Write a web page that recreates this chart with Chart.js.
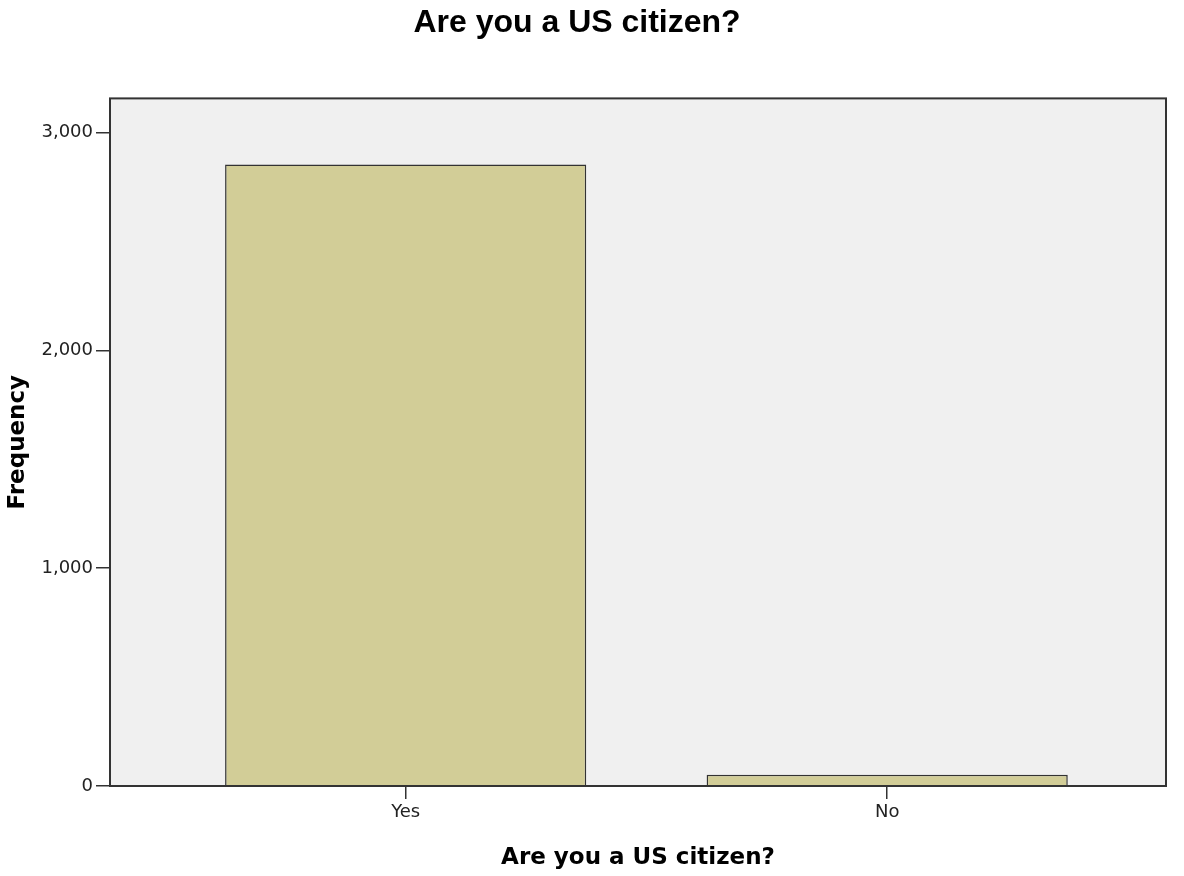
<!DOCTYPE html>
<html>
<head>
<meta charset="utf-8">
<script src="https://cdn.jsdelivr.net/npm/chart.js@4.4.1/dist/chart.umd.min.js"></script>
<style>
  html, body { margin: 0; padding: 0; background: #fff; }
  #chart { display: block; }
</style>
</head>
<body>
<canvas id="chart" width="1184" height="876"></canvas>
<script>
// chart data
const chartTitle = 'Are you a US citizen?';
const categories = ['Yes', 'No'];
const frequencies = [2853, 52];
const yTicks = [0, 1000, 2000, 3000];

// plot background + frame (SPSS style)
const plotFrame = {
    id: 'plotFrame',
    beforeDatasetsDraw(chart) {
        const a = chart.chartArea;
        const ctx = chart.ctx;
        ctx.save();
        ctx.fillStyle = '#f0f0f0';
        ctx.fillRect(a.left, a.top, a.right - a.left, a.bottom - a.top);
        ctx.restore();
    },
    afterDatasetsDraw(chart) {
        const a = chart.chartArea;
        const ctx = chart.ctx;
        ctx.save();
        ctx.strokeStyle = '#333';
        ctx.lineWidth = 2;
        ctx.strokeRect(a.left, a.top, a.right - a.left, a.bottom - a.top);
        ctx.restore();
    }
};

const ctx = document.getElementById('chart').getContext('2d');

new Chart(ctx, {
    type: 'bar',
    data: {
        datasets: [{
            label: 'Frequency',
            data: categories.map(function(c, i) { return { x: i, y: frequencies[i] }; }),
            backgroundColor: '#d2cd97',
            borderColor: '#333',
            borderWidth: 1.5,
            barPercentage: 0.75,
            categoryPercentage: 1
        }]
    },
    options: {
        responsive: false,
        animation: false,
        layout: {
            padding: { left: -12, right: 18, top: 0, bottom: 0 }
        },
        plugins: {
            legend: { display: false },
            tooltip: { enabled: false },
            title: {
                display: true,
                text: chartTitle,
                color: '#000',
                font: { family: 'Liberation Sans', size: 32, weight: 'bold' },
                padding: { top: 4, bottom: 56 }
            }
        },
        scales: {
            x: {
                type: 'linear',
                offset: false,
                min: -0.614,
                max: 1.579,
                afterBuildTicks: function(scale) {
                    scale.ticks = categories.map(function(c, i) { return { value: i }; });
                },
                afterFit: function(scale) {
                    scale.height = 90;
                },
                grid: {
                    offset: false,
                    drawOnChartArea: false,
                    drawTicks: true,
                    tickLength: 13,
                    color: '#333',
                    lineWidth: 1.5
                },
                border: { display: false },
                ticks: {
                    padding: 3,
                    color: '#222',
                    font: { family: 'DejaVu Sans', size: 18 },
                    callback: function(value) {
                        return categories[value];
                    }
                },
                title: {
                    display: true,
                    text: chartTitle,
                    color: '#000',
                    font: { family: 'DejaVu Sans', size: 23, weight: 'bold' },
                    padding: { top: 0, bottom: 4 }
                }
            },
            y: {
                min: 0,
                max: 3156,
                afterBuildTicks: function(scale) {
                    scale.ticks = yTicks.map(function(v) { return { value: v }; });
                },
                afterFit: function(scale) {
                    scale.width = 122;
                },
                grid: {
                    drawOnChartArea: false,
                    drawTicks: true,
                    tickLength: 14,
                    color: '#333',
                    lineWidth: 1.5
                },
                border: { display: false },
                ticks: {
                    padding: 3,
                    color: '#222',
                    font: { family: 'DejaVu Sans', size: 18 },
                    callback: function(value) {
                        return value.toLocaleString('en-US');
                    }
                },
                title: {
                    display: true,
                    text: 'Frequency',
                    color: '#000',
                    font: { family: 'DejaVu Sans', size: 23, weight: 'bold' },
                    padding: { top: 16, bottom: 0 }
                }
            }
        }
    },
    plugins: [plotFrame]
});
</script>
</body>
</html>
